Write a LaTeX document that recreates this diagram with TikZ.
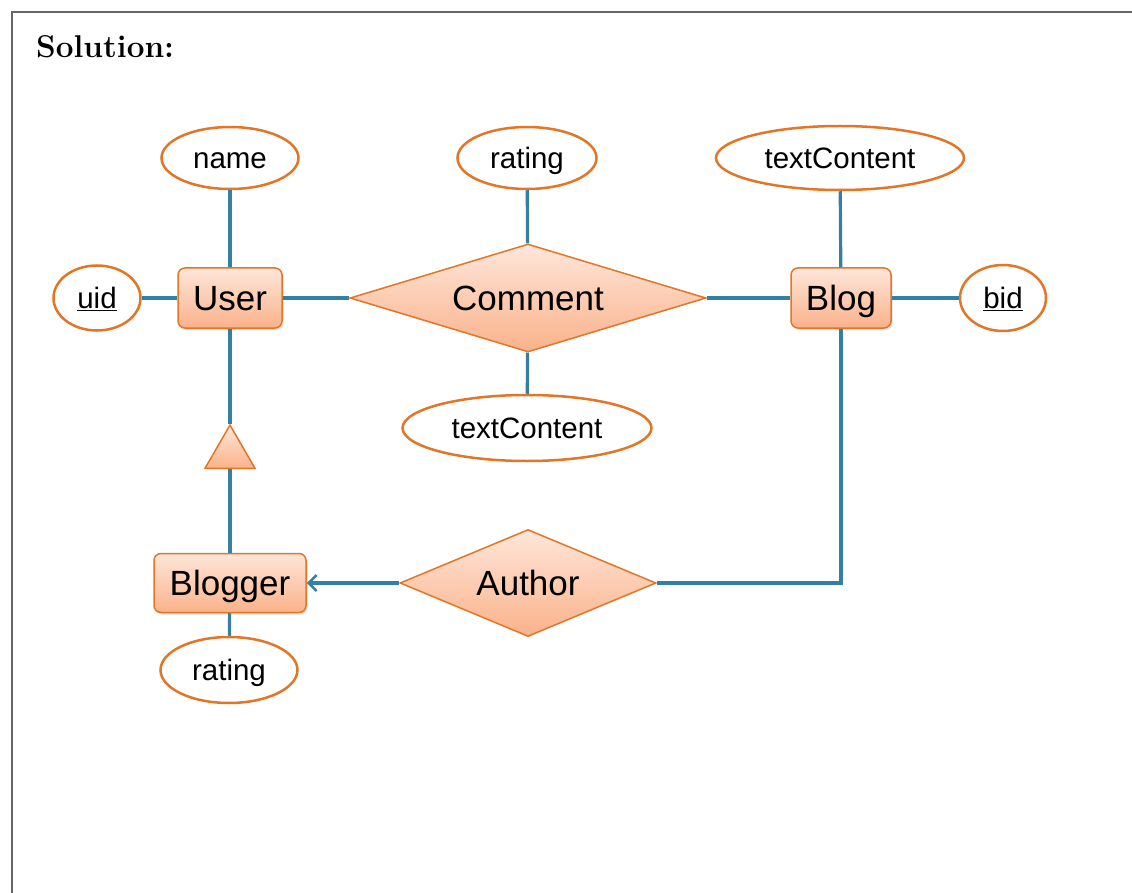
\documentclass[tikz,border=0pt]{standalone}
\usepackage{fontspec}
\newfontfamily\erfont{Liberation Sans}
\usetikzlibrary{arrows.meta, shapes, shadows, positioning}

\definecolor{erline}{RGB}{52,128,162}
\definecolor{erborder}{RGB}{226,118,38}
\definecolor{ertop}{RGB}{254,230,218}
\definecolor{erbottom}{RGB}{250,178,138}

\tikzset{
  entity/.style={draw=erborder, line width=1.5pt, rounded corners=7pt,
    top color=ertop, bottom color=erbottom, inner sep=0pt,
    text height=28pt, text depth=4pt,
    drop shadow={shadow xshift=1.5pt, shadow yshift=-2pt, opacity=0.25},
    font=\erfont\fontsize{35}{40}\selectfont},
  relation/.style={diamond, draw=erborder, line width=1.5pt, inner sep=0pt,
    top color=ertop, bottom color=erbottom, text height=28pt, text depth=4pt,
    font=\erfont\fontsize{35}{40}\selectfont},
  attr/.style={ellipse, draw=erborder, line width=2.5pt, fill=white, inner sep=0pt,
    text height=24pt, text depth=3pt,
    font=\erfont\fontsize{29.5}{34}\selectfont},
  isa/.style={regular polygon, regular polygon sides=3, draw=erborder, line width=1.5pt,
    top color=ertop, bottom color=erbottom, inner sep=0pt, minimum size=57.7pt},
  link/.style={draw=erline, line width=3.2pt}
}

\begin{document}
\begin{tikzpicture}[x=1pt, y=-1pt]
      \useasboundingbox (0,0) rectangle (1132,893);

      % Frame
      \draw[line width=2pt, gray!80!black] (12,893) -- (12,12) -- (1132,12);
      \node[anchor=base west, inner sep=0pt, font=\bfseries\fontsize{31.5}{36}\selectfont] (title) at (36,58) {Solution:};

      % Nodes
      \node[entity, minimum width=104pt, minimum height=60pt] (user) at (230,298) {User};
      \node[entity, minimum width=100pt, minimum height=60pt] (blog) at (841,298) {Blog};
      \node[entity, minimum width=152pt, minimum height=59pt] (blogger) at (230,583) {Blogger};
      \node[relation, aspect=3.3, minimum width=356pt, minimum height=108pt] (comment) at (528,298) {Comment};
      \node[relation, aspect=2.4, minimum width=256pt, minimum height=107pt] (author) at (528,583) {Author};
      \node[isa] (tri) at (230,453.9) {};
      \node[attr, minimum width=87pt, minimum height=65pt] (uid) at (97,298) {\underline{uid}};
      \node[attr, minimum width=86pt, minimum height=66pt] (bid) at (1003,298) {\underline{bid}};
      \node[attr, minimum width=137pt, minimum height=62pt] (name) at (230,158) {name};
      \node[attr, minimum width=139pt, minimum height=62pt] (crating) at (527,158) {rating};
      \node[attr, minimum width=248pt, minimum height=64pt] (btext) at (840,158) {textContent};
      \node[attr, minimum width=249pt, minimum height=66pt] (ctext) at (527,428) {textContent};
      \node[attr, minimum width=137pt, minimum height=66pt] (brating) at (229,670) {rating};
      \coordinate (bend) at (841,583);

      % Edges
      \draw[link] (uid) -- (user);
      \draw[link] (name) -- (user);
      \draw[link] (user) -- (comment);
      \draw[link] (comment) -- (blog);
      \draw[link] (blog) -- (bid);
      \draw[link] (btext) -- (blog);
      \draw[link] (crating) -- (comment);
      \draw[link] (comment) -- (ctext);
      \draw[link] (user) -- (tri);
      \draw[link] (blogger) -- (tri);
      \draw[link] (blogger) -- (brating);
      \draw[link, -{Straight Barb[length=8pt, width=16pt, line width=2.5pt]}] (author) -- (blogger);
      \draw[link] (author.east) -- (bend) -- (blog.south);

    \end{tikzpicture}
\end{document}
